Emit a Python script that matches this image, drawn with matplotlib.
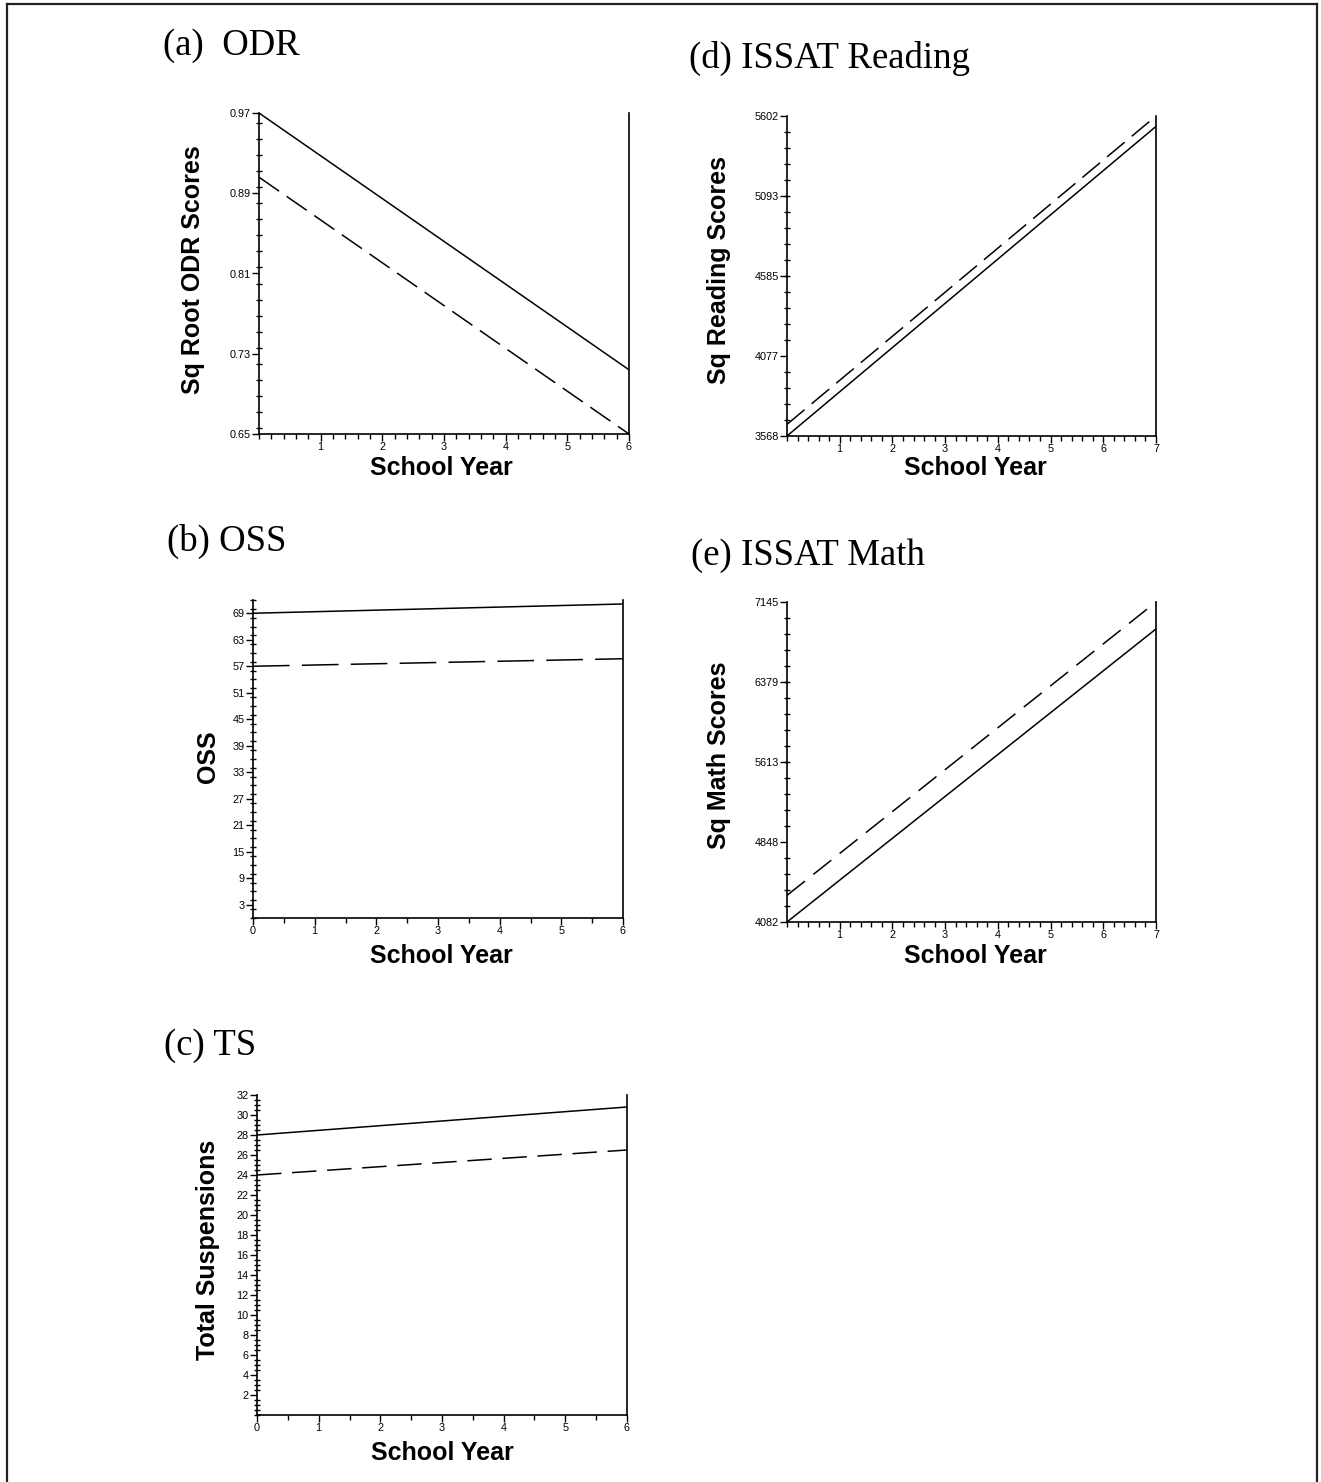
import matplotlib
matplotlib.use("Agg")
from matplotlib import pyplot as plt
from matplotlib.ticker import AutoMinorLocator, MultipleLocator
from matplotlib.lines import Line2D

plt.rcParams['font.family'] = 'Liberation Sans'

W, H = 1321, 1482

# start / end of each fitted line (school year 0 and last year)
odr_x = [0, 6]
odr_solid = [0.97, 0.714]
odr_dash = [0.906, 0.65]
odr_yticks = [0.65, 0.73, 0.81, 0.89, 0.97]

oss_x = [0, 6]
oss_solid = [69.0, 71.1]
oss_dash = [57.0, 58.7]
oss_yticks = [3, 9, 15, 21, 27, 33, 39, 45, 51, 57, 63, 69]

ts_x = [0, 6]
ts_solid = [28.0, 30.8]
ts_dash = [24.0, 26.5]
ts_yticks = [2, 4, 6, 8, 10, 12, 14, 16, 18, 20, 22, 24, 26, 28, 30, 32]

read_x = [0, 7]
read_solid = [3568, 5536]
read_dash = [3642, 5602]
read_yticks = [3568, 4077, 4585, 5093, 5602]

math_x = [0, 7]
math_solid = [4082, 6887]
math_dash = [4337, 7145]
math_yticks = [4082, 4848, 5613, 6379, 7145]

fig = plt.figure(figsize=(W / 100, H / 100), dpi=100)


def rect(l, r, t, b):
    return [l / W, 1 - b / H, (r - l) / W, (b - t) / H]


def panel(box, x, solid, dash, yticks, ylim, xticks, xminor, yminor, fmt,
          ylabel, ylab_xy, xlab_xy, dashes=(14, 6)):
    ax = fig.add_axes(rect(*box))
    ax.plot(x, solid, color='black', lw=1.1)
    ax.plot(x, dash, color='black', lw=1.1, linestyle=(0, dashes))
    ax.set_xlim(x[0], x[1])
    ax.set_ylim(*ylim)
    ax.set_xticks(xticks)
    ax.set_yticks(yticks)
    ax.set_yticklabels([fmt % v for v in yticks])
    ax.xaxis.set_minor_locator(AutoMinorLocator(xminor))
    ax.yaxis.set_minor_locator(yminor)
    ax.spines['top'].set_visible(False)
    for s in ['left', 'right', 'bottom']:
        ax.spines[s].set_linewidth(1.2)
    ax.tick_params(axis='x', which='both', direction='out', labelsize=7.8,
                   pad=1, width=1)
    ax.tick_params(axis='x', which='major', length=5)
    ax.tick_params(axis='x', which='minor', length=3.5)
    ax.tick_params(axis='y', which='major', direction='out', length=5,
                   width=1, labelsize=7.8, pad=1)
    ax.tick_params(axis='y', which='minor', direction='inout', length=5,
                   width=1)
    fig.text(ylab_xy[0] / W, 1 - ylab_xy[1] / H, ylabel, rotation=90,
             ha='center', va='center', fontsize=18, fontweight='bold')
    fig.text(xlab_xy[0] / W, 1 - xlab_xy[1] / H, 'School Year',
             ha='center', va='center', fontsize=18, fontweight='bold')
    return ax


panel((259, 629, 113, 434), odr_x, odr_solid, odr_dash, odr_yticks,
      (0.65, 0.97), [1, 2, 3, 4, 5, 6], 5, MultipleLocator(0.016), '%.2f',
      'Sq Root ODR Scores', (193, 270), (441, 468), dashes=(16, 6))
panel((253, 623, 600, 918), oss_x, oss_solid, oss_dash, oss_yticks,
      (0, 72), [0, 1, 2, 3, 4, 5, 6], 2, MultipleLocator(2), '%d',
      'OSS', (208, 757), (441, 956), dashes=(24, 8))
panel((257, 627, 1095, 1415), ts_x, ts_solid, ts_dash, ts_yticks,
      (0, 32), [0, 1, 2, 3, 4, 5, 6], 2, MultipleLocator(0.5), '%d',
      'Total Suspensions', (208, 1250), (442, 1453), dashes=(16, 7))
panel((787, 1156, 116, 436), read_x, read_solid, read_dash, read_yticks,
      (3568, 5602), [1, 2, 3, 4, 5, 6, 7], 5, AutoMinorLocator(5), '%d',
      'Sq Reading Scores', (719, 270), (975, 468), dashes=(15, 6))
panel((787, 1156, 602, 922), math_x, math_solid, math_dash, math_yticks,
      (4082, 7145), [1, 2, 3, 4, 5, 6, 7], 5, AutoMinorLocator(5), '%d',
      'Sq Math Scores', (719, 755), (975, 956), dashes=(15, 7))

titles = [('(a)  ODR', 163, 55), ('(d) ISSAT Reading', 689, 68),
          ('(b) OSS', 167, 551), ('(e) ISSAT Math', 691, 565),
          ('(c) TS', 164, 1055)]
for txt, tx, ty in titles:
    fig.text(tx / W, 1 - ty / H, txt, family='Liberation Serif',
             fontsize=26.5, ha='left', va='baseline')

# page frame: open at the bottom
fx0, fx1, fy = 6.5 / W, 1316.5 / W, 1 - 4 / H
for xs, ys in [([fx0, fx0], [0, fy]), ([fx0, fx1], [fy, fy]),
               ([fx1, fx1], [fy, 0])]:
    fig.add_artist(Line2D(xs, ys, color='#222222', lw=1.6,
                          transform=fig.transFigure))

fig.savefig('out.png', dpi=100)
